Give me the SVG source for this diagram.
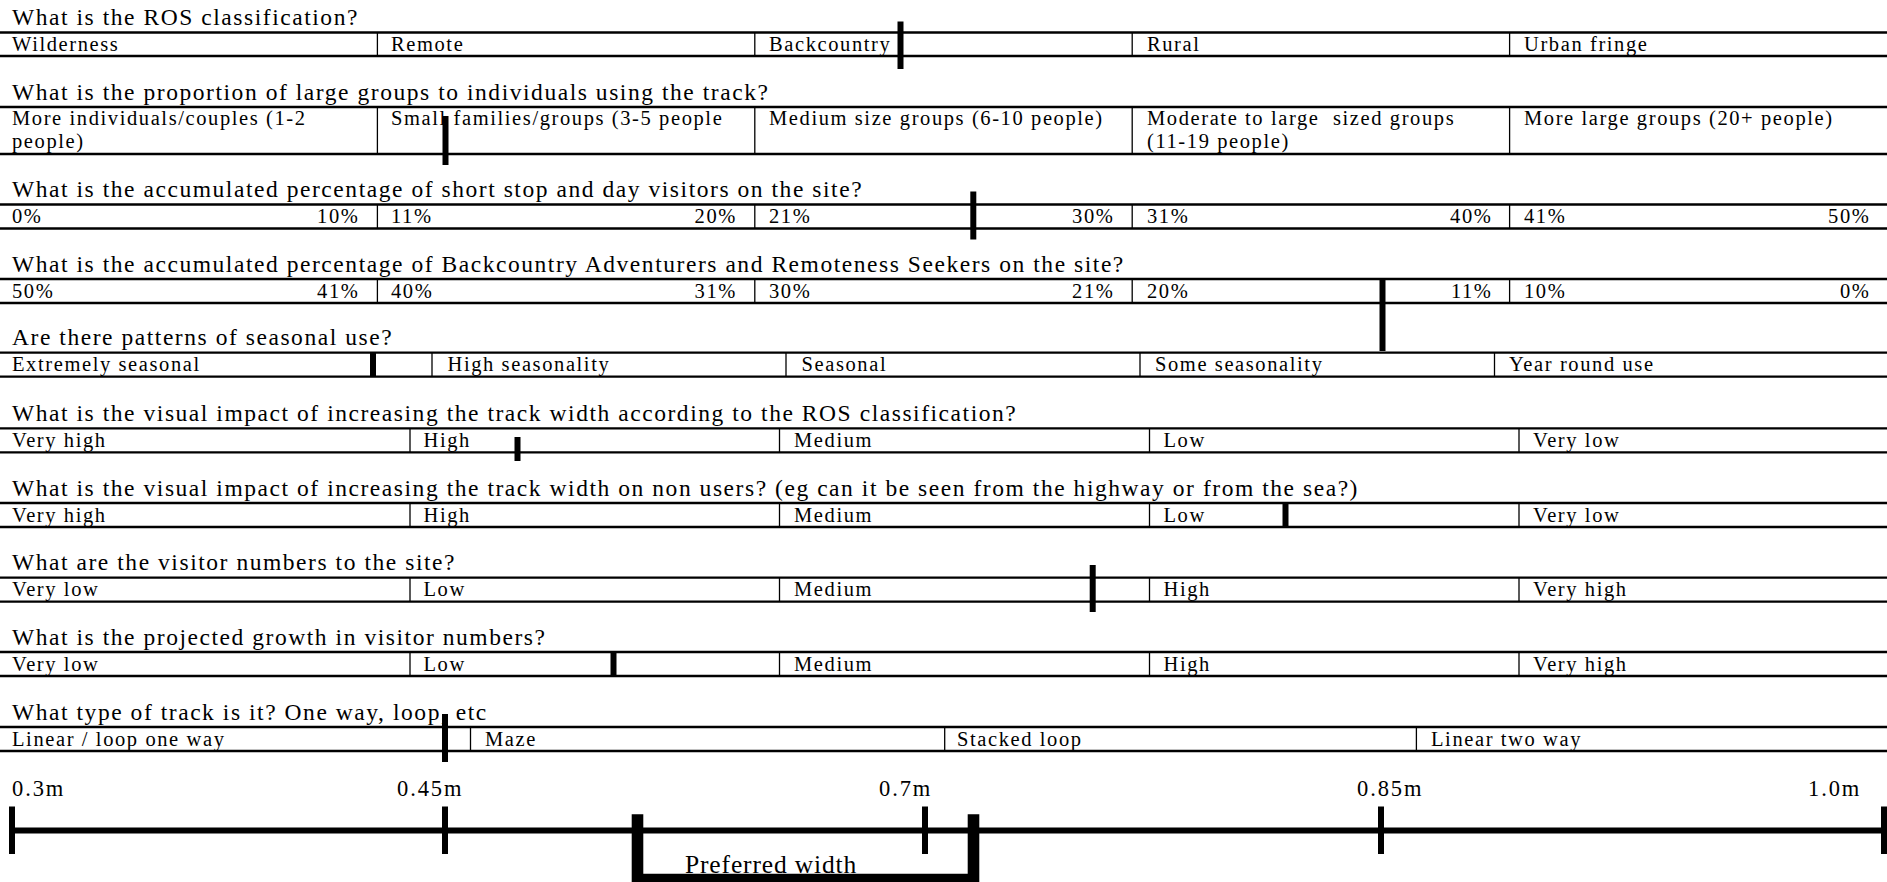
<svg xmlns="http://www.w3.org/2000/svg" width="1887" height="882" viewBox="0 0 1887 882">
<style>
text{font-family:"Liberation Serif","Times New Roman",serif;fill:#000}
.q{font-size:23.5px;letter-spacing:1.55px}
.c{font-size:20.5px;letter-spacing:1.6px}
.s{font-size:22.5px;letter-spacing:1.9px}
.r{text-anchor:end}
.h{stroke:#000;stroke-width:2.4}
.v{stroke:#000;stroke-width:1.3}
.m{stroke:#000;stroke-width:6}
.ax{stroke:#000;stroke-width:6;fill:none}
.tk{stroke:#000;stroke-width:6}
</style>
<rect width="1887" height="882" fill="#fff"/>

<g id="row1">
<text class="q" x="12" y="25">What is the ROS classification?</text>
<line class="h" x1="0" y1="32.5" x2="1887" y2="32.5"/><line class="h" x1="0" y1="56" x2="1887" y2="56"/>
<line class="v" x1="377.4" y1="32.5" x2="377.4" y2="56"/><line class="v" x1="754.8" y1="32.5" x2="754.8" y2="56"/><line class="v" x1="1132.2" y1="32.5" x2="1132.2" y2="56"/><line class="v" x1="1509.6" y1="32.5" x2="1509.6" y2="56"/>
<text class="c" x="12" y="51">Wilderness</text><text class="c" x="391" y="51">Remote</text><text class="c" x="769" y="51">Backcountry</text><text class="c" x="1147" y="51">Rural</text><text class="c" x="1524" y="51">Urban fringe</text>
</g>

<g id="row2">
<text class="q" x="12" y="99.5">What is the proportion of large groups to individuals using the track?</text>
<line class="h" x1="0" y1="107" x2="1887" y2="107"/><line class="h" x1="0" y1="154" x2="1887" y2="154"/>
<line class="v" x1="377.4" y1="107" x2="377.4" y2="154"/><line class="v" x1="754.8" y1="107" x2="754.8" y2="154"/><line class="v" x1="1132.2" y1="107" x2="1132.2" y2="154"/><line class="v" x1="1509.6" y1="107" x2="1509.6" y2="154"/>
<text class="c" x="12" y="125">More individuals/couples (1-2</text><text class="c" x="12" y="148">people)</text>
<text class="c" x="391" y="125">Small families/groups (3-5 people</text>
<text class="c" x="769" y="125">Medium size groups (6-10 people)</text>
<text class="c" x="1147" y="125" xml:space="preserve">Moderate to large  sized groups</text><text class="c" x="1147" y="148">(11-19 people)</text>
<text class="c" x="1524" y="125">More large groups (20+ people)</text>
</g>

<g id="row3">
<text class="q" x="12" y="197">What is the accumulated percentage of short stop and day visitors on the site?</text>
<line class="h" x1="0" y1="204.5" x2="1887" y2="204.5"/><line class="h" x1="0" y1="228.5" x2="1887" y2="228.5"/>
<line class="v" x1="377.4" y1="204.5" x2="377.4" y2="228.5"/><line class="v" x1="754.8" y1="204.5" x2="754.8" y2="228.5"/><line class="v" x1="1132.2" y1="204.5" x2="1132.2" y2="228.5"/><line class="v" x1="1509.6" y1="204.5" x2="1509.6" y2="228.5"/>
<text class="c" x="12" y="223">0%</text><text class="c r" x="359.5" y="223">10%</text>
<text class="c" x="391" y="223">11%</text><text class="c r" x="737" y="223">20%</text>
<text class="c" x="769" y="223">21%</text><text class="c r" x="1114.5" y="223">30%</text>
<text class="c" x="1147" y="223">31%</text><text class="c r" x="1492.5" y="223">40%</text>
<text class="c" x="1524" y="223">41%</text><text class="c r" x="1870.5" y="223">50%</text>
</g>

<g id="row4">
<text class="q" x="12" y="271.5">What is the accumulated percentage of Backcountry Adventurers and Remoteness Seekers on the site?</text>
<line class="h" x1="0" y1="279" x2="1887" y2="279"/><line class="h" x1="0" y1="303" x2="1887" y2="303"/>
<line class="v" x1="377.4" y1="279" x2="377.4" y2="303"/><line class="v" x1="754.8" y1="279" x2="754.8" y2="303"/><line class="v" x1="1132.2" y1="279" x2="1132.2" y2="303"/><line class="v" x1="1509.6" y1="279" x2="1509.6" y2="303"/>
<text class="c" x="12" y="297.5">50%</text><text class="c r" x="359.5" y="297.5">41%</text>
<text class="c" x="391" y="297.5">40%</text><text class="c r" x="737" y="297.5">31%</text>
<text class="c" x="769" y="297.5">30%</text><text class="c r" x="1114.5" y="297.5">21%</text>
<text class="c" x="1147" y="297.5">20%</text><text class="c r" x="1492.5" y="297.5">11%</text>
<text class="c" x="1524" y="297.5">10%</text><text class="c r" x="1870.5" y="297.5">0%</text>
</g>

<g id="row5">
<text class="q" x="12" y="345">Are there patterns of seasonal use?</text>
<line class="h" x1="0" y1="352.6" x2="1887" y2="352.6"/><line class="h" x1="0" y1="376.6" x2="1887" y2="376.6"/>
<line class="v" x1="432" y1="352.6" x2="432" y2="376.6"/><line class="v" x1="786" y1="352.6" x2="786" y2="376.6"/><line class="v" x1="1140" y1="352.6" x2="1140" y2="376.6"/><line class="v" x1="1494.5" y1="352.6" x2="1494.5" y2="376.6"/>
<text class="c" x="12" y="371">Extremely seasonal</text><text class="c" x="447.5" y="371">High seasonality</text><text class="c" x="801.5" y="371">Seasonal</text><text class="c" x="1155" y="371">Some seasonality</text><text class="c" x="1509" y="371">Year round use</text>
</g>

<g id="row6">
<text class="q" x="12" y="421">What is the visual impact of increasing the track width according to the ROS classification?</text>
<line class="h" x1="0" y1="428.4" x2="1887" y2="428.4"/><line class="h" x1="0" y1="452.4" x2="1887" y2="452.4"/>
<line class="v" x1="410" y1="428.4" x2="410" y2="452.4"/><line class="v" x1="779.5" y1="428.4" x2="779.5" y2="452.4"/><line class="v" x1="1149.5" y1="428.4" x2="1149.5" y2="452.4"/><line class="v" x1="1519" y1="428.4" x2="1519" y2="452.4"/>
<text class="c" x="12" y="447">Very high</text><text class="c" x="423.5" y="447">High</text><text class="c" x="794" y="447">Medium</text><text class="c" x="1163.5" y="447">Low</text><text class="c" x="1533" y="447">Very low</text>
</g>

<g id="row7">
<text class="q" x="12" y="495.5">What is the visual impact of increasing the track width on non users? (eg can it be seen from the highway or from the sea?)</text>
<line class="h" x1="0" y1="503" x2="1887" y2="503"/><line class="h" x1="0" y1="527" x2="1887" y2="527"/>
<line class="v" x1="410" y1="503" x2="410" y2="527"/><line class="v" x1="779.5" y1="503" x2="779.5" y2="527"/><line class="v" x1="1149.5" y1="503" x2="1149.5" y2="527"/><line class="v" x1="1519" y1="503" x2="1519" y2="527"/>
<text class="c" x="12" y="521.5">Very high</text><text class="c" x="423.5" y="521.5">High</text><text class="c" x="794" y="521.5">Medium</text><text class="c" x="1163.5" y="521.5">Low</text><text class="c" x="1533" y="521.5">Very low</text>
</g>

<g id="row8">
<text class="q" x="12" y="570">What are the visitor numbers to the site?</text>
<line class="h" x1="0" y1="577.6" x2="1887" y2="577.6"/><line class="h" x1="0" y1="601.6" x2="1887" y2="601.6"/>
<line class="v" x1="410" y1="577.6" x2="410" y2="601.6"/><line class="v" x1="779.5" y1="577.6" x2="779.5" y2="601.6"/><line class="v" x1="1149.5" y1="577.6" x2="1149.5" y2="601.6"/><line class="v" x1="1519" y1="577.6" x2="1519" y2="601.6"/>
<text class="c" x="12" y="596">Very low</text><text class="c" x="423.5" y="596">Low</text><text class="c" x="794" y="596">Medium</text><text class="c" x="1163.5" y="596">High</text><text class="c" x="1533" y="596">Very high</text>
</g>

<g id="row9">
<text class="q" x="12" y="644.5">What is the projected growth in visitor numbers?</text>
<line class="h" x1="0" y1="652" x2="1887" y2="652"/><line class="h" x1="0" y1="676" x2="1887" y2="676"/>
<line class="v" x1="410" y1="652" x2="410" y2="676"/><line class="v" x1="779.5" y1="652" x2="779.5" y2="676"/><line class="v" x1="1149.5" y1="652" x2="1149.5" y2="676"/><line class="v" x1="1519" y1="652" x2="1519" y2="676"/>
<text class="c" x="12" y="670.5">Very low</text><text class="c" x="423.5" y="670.5">Low</text><text class="c" x="794" y="670.5">Medium</text><text class="c" x="1163.5" y="670.5">High</text><text class="c" x="1533" y="670.5">Very high</text>
</g>

<g id="row10">
<text class="q" x="12" y="719.5">What type of track is it? One way, loop, etc</text>
<line class="h" x1="0" y1="727" x2="1887" y2="727"/><line class="h" x1="0" y1="751" x2="1887" y2="751"/>
<line class="v" x1="470.5" y1="727" x2="470.5" y2="751"/><line class="v" x1="944.7" y1="727" x2="944.7" y2="751"/><line class="v" x1="1416.4" y1="727" x2="1416.4" y2="751"/>
<text class="c" x="12" y="745.5">Linear / loop one way</text><text class="c" x="485" y="745.5">Maze</text><text class="c" x="957" y="745.5">Stacked loop</text><text class="c" x="1431" y="745.5">Linear two way</text>
</g>

<g id="markers">
<line class="m" x1="900.5" y1="21.5" x2="900.5" y2="69"/>
<line class="m" x1="445.5" y1="116" x2="445.5" y2="165"/>
<line class="m" x1="973.3" y1="191.5" x2="973.3" y2="239.5"/>
<line class="m" x1="1382.5" y1="279" x2="1382.5" y2="351"/>
<line class="m" x1="373" y1="352.6" x2="373" y2="376.6"/>
<line class="m" x1="517.5" y1="437" x2="517.5" y2="461"/>
<line class="m" x1="1285.5" y1="503" x2="1285.5" y2="527"/>
<line class="m" x1="1092.7" y1="565" x2="1092.7" y2="612"/>
<line class="m" x1="613.5" y1="652" x2="613.5" y2="676"/>
<line class="m" x1="445" y1="714" x2="445" y2="762"/>
</g>

<g id="scale">
<text class="s" x="12" y="796">0.3m</text>
<text class="s" x="397" y="796">0.45m</text>
<text class="s" x="879" y="796">0.7m</text>
<text class="s" x="1357" y="796">0.85m</text>
<text class="s" x="1808" y="796">1.0m</text>
<line class="ax" x1="12" y1="830.5" x2="1885" y2="830.5"/>
<line class="tk" x1="12" y1="806.5" x2="12" y2="854"/>
<line class="tk" x1="445" y1="806.5" x2="445" y2="854"/>
<line class="tk" x1="925" y1="806.5" x2="925" y2="854"/>
<line class="tk" x1="1381" y1="806.5" x2="1381" y2="854"/>
<line class="tk" x1="1884" y1="806.5" x2="1884" y2="854"/>
</g>

<g id="preferred">
<path d="M637.5 814.3 V879.5 H973.5 V814.3" fill="none" stroke="#000" stroke-width="11.6"/>
<text x="685" y="873" style="font-size:25.5px;letter-spacing:0.85px">Preferred width</text>
</g>
</svg>
